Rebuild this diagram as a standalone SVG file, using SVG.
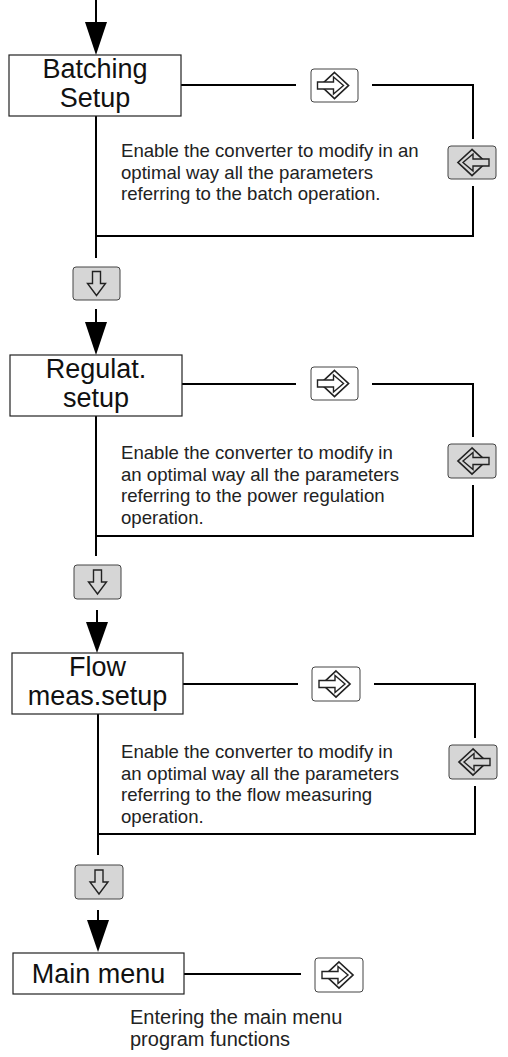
<svg xmlns="http://www.w3.org/2000/svg" xmlns:xlink="http://www.w3.org/1999/xlink" width="508" height="1057" viewBox="0 0 508 1057">
<style>
.line{stroke:#000;stroke-width:2;fill:none}
.box{fill:#fff;stroke:#222;stroke-width:1.2}
.btn{stroke:#444;stroke-width:1;}
.w{fill:#fff}
.g{fill:#d6d6d6}
.t{font-family:"Liberation Sans",Arial,sans-serif;font-size:27px;text-anchor:middle;fill:#111}
.d{font-family:"Liberation Sans",Arial,sans-serif;font-size:18.6px;fill:#222}
.dm{font-family:"Liberation Sans",Arial,sans-serif;font-size:20px;fill:#222}
.head{fill:#000}
</style>
<defs>
<g id="enterIcon">
<path d="M0,-13 L14,0 L0,13 L-14,0 Z" stroke="#222" stroke-width="1.7" stroke-linejoin="miter"/>
<path d="M-17,-3.5 H-1 V-8.5 L9,0 L-1,8.5 V3.5 H-17 Z" stroke="#222" stroke-width="1.4" stroke-linejoin="miter"/>
</g>
<g id="downIcon">
<path d="M-4,-12 H4 V0 H9 L0,12 L-9,0 H-4 Z" fill="none" stroke="#222" stroke-width="1.4"/>
</g>
</defs>

<g id="connectors">
<line class="line" x1="96" y1="0" x2="96" y2="25"/>
<path class="head" d="M85,22 L107,22 L96,55 Z"/>
<polyline class="line" points="181,85 296,85"/>
<polyline class="line" points="372,85 473,85 473,139"/>
<polyline class="line" points="473,186 473,236 96,236"/>
<line class="line" x1="96" y1="116" x2="96" y2="258"/>
<line class="line" x1="96" y1="309" x2="96" y2="325"/>
<path class="head" d="M85,322 L107,322 L96,355 Z"/>
<polyline class="line" points="182,384 296,384"/>
<polyline class="line" points="372,384 473,384 473,437"/>
<polyline class="line" points="473,485 473,536 96,536"/>
<line class="line" x1="96" y1="416" x2="96" y2="556"/>
<line class="line" x1="97" y1="610" x2="97" y2="625"/>
<path class="head" d="M86,622 L108,622 L97,653 Z"/>
<polyline class="line" points="183,684 298,684"/>
<polyline class="line" points="374,684 475,684 475,738"/>
<polyline class="line" points="475,786 475,834 98,834"/>
<line class="line" x1="98" y1="714" x2="98" y2="855"/>
<line class="line" x1="98" y1="910" x2="98" y2="923"/>
<path class="head" d="M87,920 L109,920 L98,952 Z"/>
<polyline class="line" points="184,974 301,974"/>
</g>

<g id="node-batching">
<rect class="box" x="9" y="55" width="172" height="61"/>
<text class="t" x="95" y="78">Batching</text>
<text class="t" x="95" y="107">Setup</text>
</g>
<g id="btn-enter-1">
<rect class="btn w" x="311" y="69" width="47" height="33" rx="3"/>
<use xlink:href="#enterIcon" transform="translate(334.5,85.5)" fill="#fff"/>
</g>
<g id="btn-esc-1">
<rect class="btn g" x="448" y="146" width="48" height="33" rx="3"/>
<use xlink:href="#enterIcon" transform="translate(472,162.5) scale(-1,1)" fill="#d6d6d6"/>
</g>
<g id="desc-1">
<text class="d" x="121" y="157">Enable the converter to modify in an</text>
<text class="d" x="121" y="178.5">optimal way all the parameters</text>
<text class="d" x="121" y="200">referring to the batch operation.</text>
</g>
<g id="btn-down-1">
<rect class="btn g" x="73" y="267" width="47" height="33" rx="3"/>
<use xlink:href="#downIcon" transform="translate(96.5,283.5)"/>
</g>

<g id="node-regulat">
<rect class="box" x="10" y="355" width="172" height="61"/>
<text class="t" x="96" y="378">Regulat.</text>
<text class="t" x="96" y="407">setup</text>
</g>
<g id="btn-enter-2">
<rect class="btn w" x="311" y="367" width="47" height="33" rx="3"/>
<use xlink:href="#enterIcon" transform="translate(334.5,383.5)" fill="#fff"/>
</g>
<g id="btn-esc-2">
<rect class="btn g" x="448" y="444" width="48" height="34" rx="3"/>
<use xlink:href="#enterIcon" transform="translate(472,461) scale(-1,1)" fill="#d6d6d6"/>
</g>
<g id="desc-2">
<text class="d" x="121" y="459">Enable the converter to modify in</text>
<text class="d" x="121" y="480.5">an optimal way all the parameters</text>
<text class="d" x="121" y="502">referring to the power regulation</text>
<text class="d" x="121" y="523.5">operation.</text>
</g>
<g id="btn-down-2">
<rect class="btn g" x="74" y="565" width="47" height="34" rx="3"/>
<use xlink:href="#downIcon" transform="translate(97.5,582)"/>
</g>

<g id="node-flow">
<rect class="box" x="12" y="653" width="171" height="61"/>
<text class="t" x="97.5" y="676">Flow</text>
<text class="t" x="97.5" y="705">meas.setup</text>
</g>
<g id="btn-enter-3">
<rect class="btn w" x="312" y="667" width="48" height="34" rx="3"/>
<use xlink:href="#enterIcon" transform="translate(336,684)" fill="#fff"/>
</g>
<g id="btn-esc-3">
<rect class="btn g" x="449" y="745" width="48" height="34" rx="3"/>
<use xlink:href="#enterIcon" transform="translate(473,762) scale(-1,1)" fill="#d6d6d6"/>
</g>
<g id="desc-3">
<text class="d" x="121" y="758">Enable the converter to modify in</text>
<text class="d" x="121" y="779.5">an optimal way all the parameters</text>
<text class="d" x="121" y="801">referring to the flow measuring</text>
<text class="d" x="121" y="822.5">operation.</text>
</g>
<g id="btn-down-3">
<rect class="btn g" x="75" y="865" width="48" height="34" rx="3"/>
<use xlink:href="#downIcon" transform="translate(99,882)"/>
</g>

<g id="node-main">
<rect class="box" x="13" y="953" width="171" height="41"/>
<text class="t" x="98.5" y="983">Main menu</text>
</g>
<g id="btn-enter-4">
<rect class="btn w" x="315" y="958" width="48" height="34" rx="3"/>
<use xlink:href="#enterIcon" transform="translate(339,975)" fill="#fff"/>
</g>
<g id="desc-main">
<text class="dm" x="130" y="1024">Entering the main menu</text>
<text class="dm" x="130" y="1046">program functions</text>
</g>
</svg>
